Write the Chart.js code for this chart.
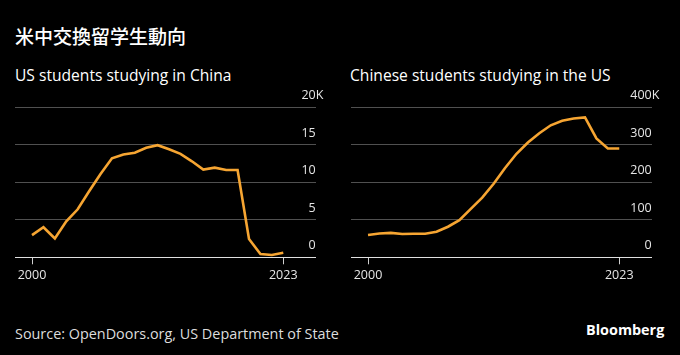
<!DOCTYPE html>
<html>
<head>
<meta charset="utf-8">
<script src="https://cdn.jsdelivr.net/npm/chart.js@4/dist/chart.umd.min.js"></script>
<style>
  html, body { margin: 0; padding: 0; background: #000; }
  body { width: 680px; height: 355px; position: relative; overflow: hidden; font-family: "Open Sans", sans-serif; color: #fff; }
  .t { position: absolute; white-space: nowrap; }
  #title { left: 15px; top: 25px; font-family: "Noto Sans CJK JP", sans-serif; font-size: 19px; line-height: 22px; font-weight: 500; }
  .sub { top: 65px; font-size: 15.6px; line-height: 20px; }
  #src { left: 15px; top: 325px; font-size: 14.4px; line-height: 18px; color: #ddd; }
  #bb { left: 586px; top: 321px; font-size: 14.4px; line-height: 18px; font-weight: 700; }
  canvas { position: absolute; }
</style>
</head>
<body>
<div class="t" id="title">米中交換留学生動向</div>
<div class="t sub" style="left:15px">US students studying in China</div>
<div class="t sub" style="left:350px">Chinese students studying in the US</div>
<div class="t" id="src">Source: OpenDoors.org, US Department of State</div>
<div class="t" id="bb">Bloomberg</div>
<div style="position:absolute;left:0;top:90px;width:340px;height:210px"><canvas id="c1"></canvas></div>
<div style="position:absolute;left:336px;top:90px;width:340px;height:210px"><canvas id="c2"></canvas></div>
<script>
// Academic years (Open Doors), 2000/01 .. 2022/23
const categories = ["2000/01","2001/02","2002/03","2003/04","2004/05","2005/06","2006/07","2007/08","2008/09","2009/10","2010/11","2011/12","2012/13","2013/14","2014/15","2015/16","2016/17","2017/18","2018/19","2019/20","2020/21","2021/22","2022/23"];
// US students studying in China (thousands)
const usStudentsInChina = [2.95, 4.0, 2.5, 4.8, 6.4, 8.8, 11.1, 13.2, 13.7, 13.95, 14.6, 14.95, 14.4, 13.8, 12.8, 11.7, 11.95, 11.65, 11.65, 2.45, 0.45, 0.3, 0.6];
// Chinese students studying in the US (thousands)
const chineseStudentsInUS = [59.5, 63.5, 65, 62, 62.7, 63, 68, 81.5, 99, 129, 159, 196, 238, 276, 306, 331, 352, 364, 370, 373, 317, 290.5, 290];
// Tick labels
const xTickLabels = ["2000", "2023"];
const yTicksLeft = [0, 5, 10, 15, 20];
const yTicksRight = [0, 100, 200, 300, 400];
const unitSuffix = "K";

const ORANGE = "#f6a532";
const xTickIdx = [0, categories.length - 1];

const yLabelPlugin = {
  id: "yLabels",
  afterDraw(chart, args, opts) {
    const ctx = chart.ctx, y = chart.scales.y, area = chart.chartArea;
    ctx.save();
    ctx.font = "12.5px 'Open Sans', sans-serif";
    ctx.fillStyle = "#e6e6e6";
    ctx.textBaseline = "alphabetic";
    const ticks = opts.ticks;
    ticks.forEach((v, i) => {
      const py = y.getPixelForValue(v) - 8;
      const s = String(v);
      ctx.textAlign = "right";
      ctx.fillText(s, area.right, py);
      if (i === ticks.length - 1) {
        ctx.textAlign = "left";
        ctx.fillText(unitSuffix, area.right, py);
      }
    });
    ctx.restore();
  }
};

function makeChart(id, values, yTicks) {
  const last = categories.length - 1;
  return new Chart(document.getElementById(id), {
    type: "line",
    data: {
      datasets: [{
        data: categories.map((c, i) => ({ x: i, y: values[i] })),
        borderColor: ORANGE,
        borderWidth: 2.6,
        pointRadius: 0,
        tension: 0,
        borderJoinStyle: "miter",
        clip: false
      }]
    },
    options: {
      responsive: true,
      maintainAspectRatio: false,
      animation: false,
      layout: { padding: { left: 15, right: 24.3, top: 17.3, bottom: 12.7 } },
      plugins: { legend: { display: false }, tooltip: { enabled: false }, yLabels: { ticks: yTicks } },
      scales: {
        x: {
          type: "linear",
          min: -1.49,
          max: last + 2.84,
          afterBuildTicks: s => { s.ticks = xTickIdx.map(v => ({ value: v })); },
          afterFit: s => { s.height = 30; },
          ticks: {
            autoSkip: false,
            maxRotation: 0,
            padding: 4,
            color: "#e6e6e6",
            font: { family: "'Open Sans', sans-serif", size: 12.5 },
            callback: v => xTickLabels[xTickIdx.indexOf(v)]
          },
          grid: { drawOnChartArea: false, drawTicks: true, tickLength: 7, color: "#d0d0d0", lineWidth: 1 },
          border: { display: true, color: "#e0e0e0", width: 1 }
        },
        y: {
          position: "right",
          min: yTicks[0],
          max: yTicks[yTicks.length - 1],
          afterBuildTicks: s => { s.ticks = yTicks.map(v => ({ value: v })); },
          afterFit: s => { s.width = 0; },
          ticks: { display: false },
          grid: { drawTicks: false, color: "#505050", lineWidth: 1 },
          border: { display: false }
        }
      }
    },
    plugins: [yLabelPlugin]
  });
}

makeChart("c1", usStudentsInChina, yTicksLeft);
makeChart("c2", chineseStudentsInUS, yTicksRight);
</script>
</body>
</html>
